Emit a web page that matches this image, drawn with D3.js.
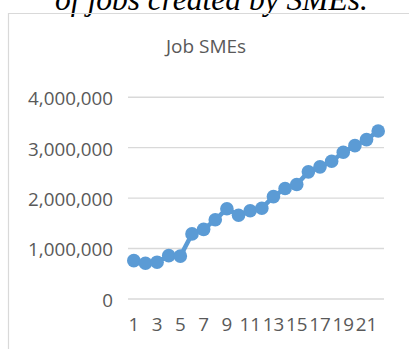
<!DOCTYPE html>
<html>
<head>
<meta charset="utf-8">
<script src="https://cdn.jsdelivr.net/npm/d3@7"></script>
<style>
  html, body { margin: 0; padding: 0; background: #fff; }
  svg { display: block; }
</style>
</head>
<body>
<svg id="chart" width="409" height="349"></svg>
<script>
// Number of jobs created by SMEs, by period
const periods = d3.range(1, 23);
const jobs = [750000, 700000, 720000, 850000, 840000, 1280000, 1370000, 1560000,
              1780000, 1650000, 1740000, 1790000, 2020000, 2180000, 2260000, 2510000,
              2610000, 2720000, 2900000, 3030000, 3150000, 3320000];
const yTicks = [0, 1000000, 2000000, 3000000, 4000000];
const xTickLabels = [1, 3, 5, 7, 9, 11, 13, 15, 17, 19, 21];
const chartTitle = "Job SMEs";
const captionText = "of jobs created by SMEs.";

const svg = d3.select("#chart");
const W = 409, H = 349;
const textColor = "#595959";
const gridColor = "#d9d9d9";
const seriesColor = "#5b9bd5";
const font = "'Open Sans', 'DejaVu Sans', sans-serif";

// Caption text running above the chart frame
svg.append("text")
  .attr("x", 55).attr("y", 10)
  .attr("font-family", "'Liberation Serif', 'Times New Roman', serif")
  .attr("font-style", "italic")
  .attr("font-size", 31.5)
  .attr("fill", "#000")
  .text(captionText);

// Chart frame
svg.append("path")
  .attr("d", `M8.5,${H} V13.5 H${W}`)
  .attr("fill", "none")
  .attr("stroke", gridColor)
  .attr("stroke-width", 1.2);

// Title
svg.append("text")
  .attr("x", 206).attr("y", 53)
  .attr("text-anchor", "middle")
  .attr("font-family", font)
  .attr("font-size", 19)
  .attr("fill", textColor)
  .text(chartTitle);

const plot = { left: 128, right: 384, top: 96.7, bottom: 298.5 };

const x = d3.scaleBand().domain(periods).range([plot.left, plot.right]);
const y = d3.scaleLinear().domain([0, 4000000]).range([plot.bottom, plot.top]);

// Horizontal gridlines with value labels
const yAxis = d3.axisLeft(y)
  .tickValues(yTicks)
  .tickSize(-(plot.right - plot.left))
  .tickPadding(15)
  .tickFormat(d3.format(","));

const gy = svg.append("g")
  .attr("transform", `translate(${plot.left},0)`)
  .call(yAxis);
gy.select(".domain").remove();
gy.selectAll(".tick line").attr("stroke", gridColor).attr("stroke-width", 1.4);
gy.selectAll(".tick text")
  .attr("font-family", font)
  .attr("font-size", 18.8)
  .attr("fill", textColor)
  .attr("dy", "0.42em");

// Category labels, every other period
const xAxis = d3.axisBottom(x)
  .tickValues(xTickLabels)
  .tickSize(0)
  .tickPadding(0);
const gx = svg.append("g")
  .attr("transform", `translate(0,${plot.bottom})`)
  .call(xAxis);
gx.select(".domain").remove();
gx.selectAll(".tick text")
  .attr("font-family", font)
  .attr("font-size", 18.8)
  .attr("fill", textColor)
  .attr("dy", "1.75em");

const cx = d => x(d) + x.bandwidth() / 2;

// Series line
svg.append("path")
  .datum(periods.map((p, i) => [p, jobs[i]]))
  .attr("fill", "none")
  .attr("stroke", seriesColor)
  .attr("stroke-width", 4.5)
  .attr("stroke-linejoin", "round")
  .attr("d", d3.line().x(d => cx(d[0])).y(d => y(d[1])));

// Markers
svg.append("g")
  .selectAll("circle")
  .data(periods.map((p, i) => [p, jobs[i]]))
  .join("circle")
  .attr("cx", d => cx(d[0]))
  .attr("cy", d => y(d[1]))
  .attr("r", 6.8)
  .attr("fill", seriesColor);
</script>
</body>
</html>
